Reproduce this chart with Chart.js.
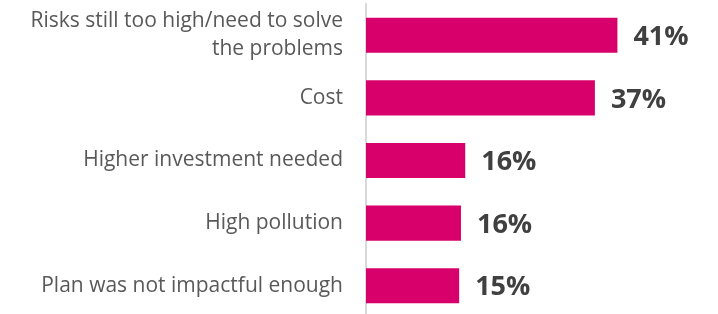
<!DOCTYPE html>
<html>
<head>
<meta charset="utf-8">
<script src="https://cdn.jsdelivr.net/npm/chart.js@4.4.0/dist/chart.umd.min.js"></script>
<style>
  html, body { margin: 0; padding: 0; background: #fff; overflow: hidden; }
  #wrap { position: relative; width: 718px; height: 317px; }
</style>
</head>
<body>
<div id="wrap"><canvas id="myChart"></canvas></div>
<script>
// reasons data //
var reasons = [
    ['Risks still too high/need to solve', 'the problems'],
    'Cost',
    'Higher investment needed',
    'High pollution',
    'Plan was not impactful enough'
];
var shares = [41.3, 37.6, 16.3, 15.6, 15.3];
var shareLabels = ['41%', '37%', '16%', '16%', '15%'];

// value labels at the bar ends //
var barValues = {
    id: 'barValues',
    afterDatasetsDraw: function(chart) {
        var ctx = chart.ctx;
        var meta = chart.getDatasetMeta(0);
        ctx.save();
        ctx.font = 'bold 27px "Open Sans"';
        ctx.fillStyle = '#404040';
        ctx.textAlign = 'left';
        ctx.textBaseline = 'middle';
        meta.data.forEach(function(bar, i) {
            ctx.fillText(shareLabels[i], bar.x + 16, bar.y + 2);
        });
        ctx.restore();
    }
};

var ctx = document.getElementById('myChart').getContext('2d');
var reasonschart = new Chart(ctx, {
    type: 'bar',
    data: {
        labels: reasons,
        datasets: [{
            data: shares,
            backgroundColor: '#d8006b',
            barPercentage: 0.56,
            categoryPercentage: 1
        }]
    },
    options: {
        indexAxis: 'y',
        responsive: true,
        maintainAspectRatio: false,
        animation: false,
        layout: { padding: { top: 4, right: 5, bottom: 0, left: 0 } },
        plugins: {
            legend: { display: false },
            tooltip: { enabled: false }
        },
        scales: {
            x: {
                display: false,
                min: 0,
                max: 57
            },
            y: {
                afterFit: function(scale) {
                    scale.width = 366;
                    scale.paddingTop = 0;
                    scale.paddingBottom = 0;
                },
                grid: { display: false, drawTicks: false },
                border: { display: true, color: '#d9d9d9', width: 2 },
                ticks: {
                    padding: 23,
                    color: '#595959',
                    font: { family: '"Open Sans"', size: 21, lineHeight: 1.33 }
                }
            }
        }
    },
    plugins: [barValues]
});
</script>
</body>
</html>
